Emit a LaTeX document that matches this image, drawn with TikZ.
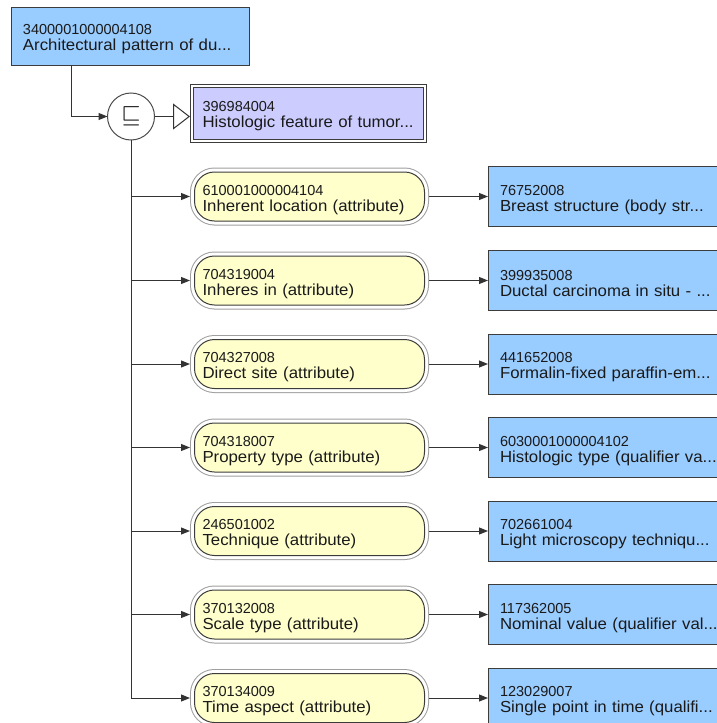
\documentclass[tikz,border=0pt]{standalone}
\usepackage{fontspec}
\setmainfont{Liberation Sans}
\newfontfamily\namefam{Liberation Sans}[FakeStretch=1.05]
\newfontfamily\numfam{Liberation Sans}
\usetikzlibrary{arrows.meta,calc}
\definecolor{boxblue}{HTML}{99CCFF}
\definecolor{boxpurple}{HTML}{CCCCFF}
\definecolor{boxyellow}{HTML}{FFFFCC}
\definecolor{linec}{HTML}{333333}
\definecolor{bordc}{HTML}{3C3C3C}
\definecolor{txtc}{HTML}{1A1A1A}
\newcommand\twoline[2]{\rule{0pt}{17pt}\mbox{\numfam\fontsize{14.5}{16}\selectfont #1}\\\mbox{#2}}
\begin{document}
\begin{tikzpicture}[x=1pt,y=-1pt,
  lbl/.style={font=\namefam\fontsize{16}{16}\selectfont, text=txtc, align=left, inner ysep=0pt},
  bluebox/.style={lbl, rectangle, draw=bordc, line width=1pt, fill=boxblue,
    minimum width=240pt, minimum height=60pt, text width=216pt, inner xsep=12pt, outer sep=0pt, anchor=west},
  topbox/.style={bluebox, minimum width=238pt, minimum height=58pt, text width=214pt, anchor=north west},
  purplebox/.style={lbl, rectangle, fill=boxpurple, draw=bordc, line width=1pt,
    preaction={draw=bordc, line width=7pt}, preaction={draw=white, line width=5pt},
    minimum width=230pt, minimum height=52pt, text width=212pt, inner xsep=9pt, outer sep=3.5pt, anchor=west},
  yellowbox/.style={lbl, rectangle, rounded corners=20pt, fill=boxyellow, draw=bordc, line width=1pt,
    preaction={draw=gray!75, line width=9pt}, preaction={draw=white, line width=7pt},
    minimum width=230pt, minimum height=49pt, text width=214pt, inner xsep=8pt, outer sep=4.5pt, anchor=west},
  opcircle/.style={circle, draw=gray!60!black, fill=white, line width=1pt, minimum size=47pt, inner sep=0pt, outer sep=0pt},
  conn/.style={draw=linec, line width=1pt},
  arr/.style={conn, -{Triangle[length=9pt,width=7pt]}},
  isa/.style={conn, -{Triangle[open,length=17pt,width=26pt,line width=1pt,fill=white]}}
]
\clip (0,0) rectangle (717,723);
\fill[white] (0,0) rectangle (717,723);

% top concept
\node[topbox] (top) at (11,7) {\twoline{3400001000004108}{Architectural pattern of du...}};
\coordinate (tj) at (71.5,65);

% operator circle
\node[opcircle] (c) at (131,116.5) {\fontsize{24}{24}\selectfont$\sqsubseteq$};

% parent concept
\node[purplebox] (pur) at (190,113) {\twoline{396984004}{Histologic feature of tumor...}};

% attribute rows
\node[yellowbox] (y1) at (190,196.5) {\twoline{610001000004104}{Inherent location (attribute)}};
\node[yellowbox] (y2) at (190,280.5) {\twoline{704319004}{Inheres in (attribute)}};
\node[yellowbox] (y3) at (190,364) {\twoline{704327008}{Direct site (attribute)}};
\node[yellowbox] (y4) at (190,447.5) {\twoline{704318007}{Property type (attribute)}};
\node[yellowbox] (y5) at (190,531) {\twoline{246501002}{Technique (attribute)}};
\node[yellowbox] (y6) at (190,614.5) {\twoline{370132008}{Scale type (attribute)}};
\node[yellowbox] (y7) at (190,698) {\twoline{370134009}{Time aspect (attribute)}};

\node[bluebox] (b1) at (488,196.5) {\twoline{76752008}{Breast structure (body str...}};
\node[bluebox] (b2) at (488,280.5) {\twoline{399935008}{Ductal carcinoma in situ - ...}};
\node[bluebox] (b3) at (488,364) {\twoline{441652008}{Formalin-fixed paraffin-em...}};
\node[bluebox] (b4) at (488,447.5) {\twoline{6030001000004102}{Histologic type (qualifier va...}};
\node[bluebox] (b5) at (488,531) {\twoline{702661004}{Light microscopy techniqu...}};
\node[bluebox] (b6) at (488,614.5) {\twoline{117362005}{Nominal value (qualifier val...}};
\node[bluebox] (b7) at (488,698) {\twoline{123029007}{Single point in time (qualifi...}};

% connectors
\draw[arr] (tj) |- (c.west);
\draw[isa] (c.east) -- (c.east -| pur.west);
\draw[arr] (c.south) |- (y7.west);
\foreach \k in {1,...,6} {
  \draw[arr] (c.south |- y\k.west) -- (y\k.west);
}
\foreach \k in {1,...,7} {
  \draw[arr] (y\k.east) -- (b\k.west);
}
\end{tikzpicture}
\end{document}
